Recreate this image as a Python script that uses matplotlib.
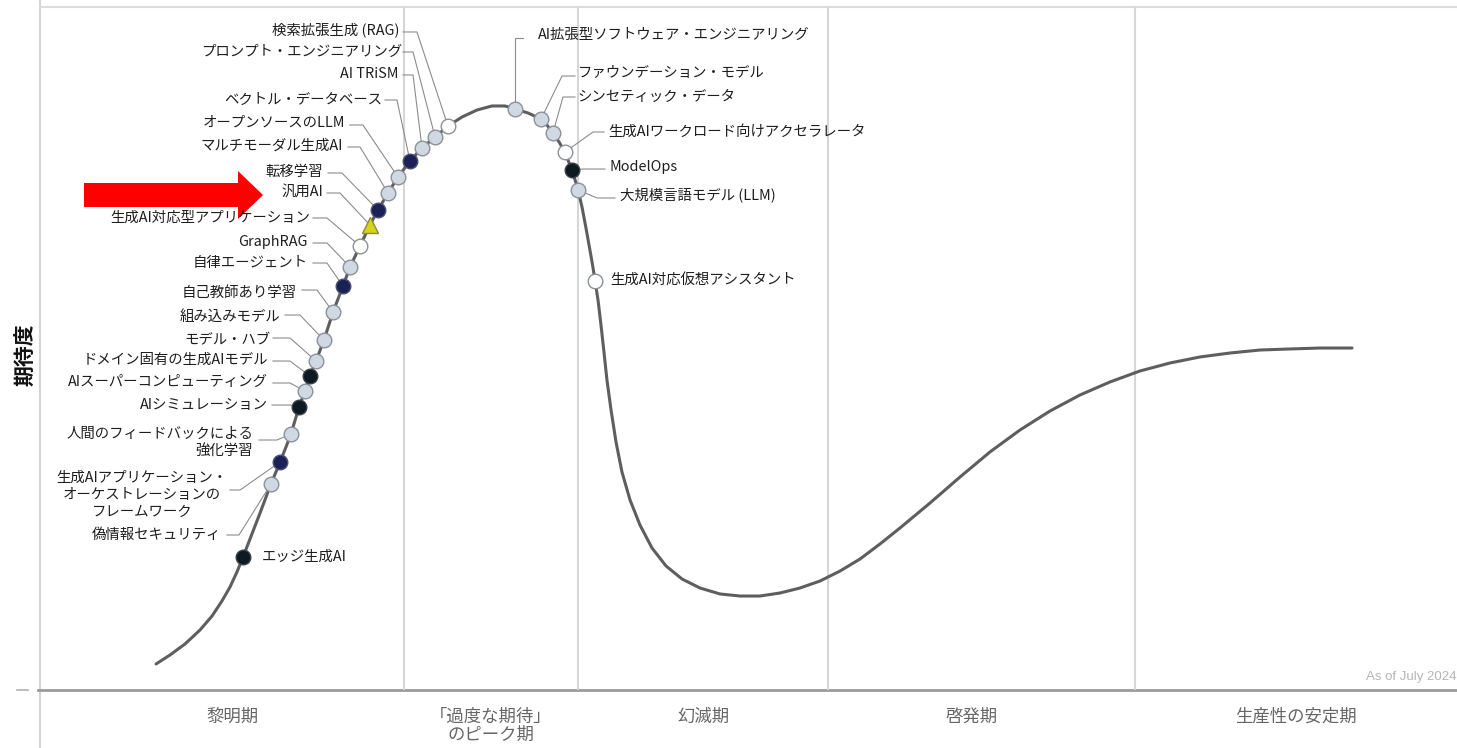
import matplotlib
matplotlib.use("Agg")
import matplotlib.pyplot as plt
from matplotlib.patches import Polygon

plt.rcParams['font.family'] = ['Noto Sans CJK JP', 'DejaVu Sans']

# Hype cycle curve: time (x) and expectations (y), both on a 0-100 scale
curve_x = [8.19, 9.17, 10.23, 11.29, 12.14, 12.84, 13.41, 13.90, 14.33, 14.82,
           15.53, 16.30, 16.94, 17.36, 17.71, 18.28, 18.70, 19.05, 19.48, 20.04,
           20.68, 21.38, 21.88, 22.58, 23.29, 23.85, 24.56, 25.26, 26.11, 26.96,
           27.88, 28.79, 29.78, 30.84, 31.90, 32.82, 33.52, 34.44, 35.36, 35.78,
           36.20, 36.63, 37.05, 37.26, 37.54, 37.76, 37.97, 38.25, 38.53, 38.81,
           39.03, 39.17, 39.38, 39.59, 39.80, 40.01, 40.30, 40.65, 41.07, 41.64,
           42.34, 43.19, 44.18, 45.31, 46.58, 47.99, 49.40, 50.81, 52.22, 53.63,
           55.05, 56.46, 57.87, 59.28, 60.69, 62.81, 64.93, 67.04, 69.16, 71.28,
           73.39, 75.51, 77.63, 79.75, 81.86, 83.98, 86.10, 88.21, 90.33, 92.59]
curve_y = [3.81, 5.12, 6.73, 8.78, 10.83, 13.03, 15.08, 17.28, 19.47, 22.11,
           25.92, 30.16, 33.38, 35.58, 37.48, 41.43, 43.78, 45.97, 48.17, 51.24,
           55.34, 59.15, 61.93, 65.01, 68.08, 70.28, 72.77, 75.11, 77.45, 79.36,
           80.97, 82.58, 83.89, 84.92, 85.51, 85.51, 85.07, 84.48, 83.60, 82.72,
           81.55, 80.23, 78.77, 77.60, 76.13, 74.67, 73.21, 70.72, 67.64, 64.42,
           61.79, 59.88, 57.10, 53.44, 49.49, 45.39, 40.99, 36.31, 31.92, 27.82,
           24.16, 20.79, 18.16, 16.25, 14.93, 14.06, 13.76, 13.76, 14.20, 14.93,
           15.96, 17.42, 19.18, 21.38, 23.72, 27.38, 31.19, 34.85, 38.07, 40.85,
           43.19, 45.10, 46.71, 47.88, 48.76, 49.34, 49.78, 49.93, 50.07, 50.07]

# Phases of the cycle
phase_bounds = [25.69, 37.97, 55.61, 77.28]
phase_names = ["黎明期", "「過度な期待」\nのピーク期", "幻滅期", "啓発期", "生産性の安定期"]
phase_label_x = [13.55, 31.83, 46.79, 65.77, 88.64]

# Technologies placed on the curve
tech_names = [
    "エッジ生成AI",
    "偽情報セキュリティ",
    "生成AIアプリケーション・\nオーケストレーションの\nフレームワーク",
    "人間のフィードバックによる\n強化学習",
    "AIシミュレーション",
    "AIスーパーコンピューティング",
    "ドメイン固有の生成AIモデル",
    "モデル・ハブ",
    "組み込みモデル",
    "自己教師あり学習",
    "自律エージェント",
    "GraphRAG",
    "生成AI対応型アプリケーション",
    "汎用AI",
    "転移学習",
    "マルチモーダル生成AI",
    "オープンソースのLLM",
    "ベクトル・データベース",
    "AI TRiSM",
    "プロンプト・エンジニアリング",
    "検索拡張生成 (RAG)",
    "AI拡張型ソフトウェア・エンジニアリング",
    "ファウンデーション・モデル",
    "シンセティック・データ",
    "生成AIワークロード向けアクセラレータ",
    "ModelOps",
    "大規模言語モデル (LLM)",
    "生成AI対応仮想アシスタント",
]
tech_x = [14.33, 16.30, 16.94, 17.71, 18.28, 18.70, 19.05, 19.48, 20.04, 20.68,
          21.38, 21.88, 22.58, 23.29, 23.85, 24.56, 25.26, 26.11, 26.96, 27.88,
          28.79, 33.52, 35.36, 36.20, 37.05, 37.54, 37.97, 39.17]
tech_y = [19.47, 30.16, 33.38, 37.48, 41.43, 43.78, 45.97, 48.17, 51.24, 55.34,
          59.15, 61.93, 65.01, 68.08, 70.28, 72.77, 75.11, 77.45, 79.36, 80.97,
          82.58, 85.07, 83.60, 81.55, 78.77, 76.13, 73.21, 59.88]
# Years to plateau
tech_years = ["10年以上", "2～5年", "5～10年", "2～5年", "10年以上", "2～5年",
              "10年以上", "2～5年", "2～5年", "2～5年", "5～10年", "2～5年",
              "2年未満", "陳腐化", "5～10年", "2～5年", "2～5年", "5～10年",
              "2～5年", "2～5年", "2年未満", "2～5年", "2～5年", "2～5年",
              "2年未満", "10年以上", "2～5年", "2年未満"]

# Marker styling per maturity category
marker_style = {
    "2年未満": dict(marker="o", mfc="#ffffff", mec="#8a9199", ms=10.5),
    "2～5年": dict(marker="o", mfc="#d0d9e3", mec="#8a9199", ms=10.5),
    "5～10年": dict(marker="o", mfc="#1b2157", mec="#4b5070", ms=10.5),
    "10年以上": dict(marker="o", mfc="#0e1a22", mec="#3a4046", ms=10.5),
    "陳腐化": dict(marker="^", mfc="#d4d41c", mec="#8c8c3c", ms=11),
}

# Label placement in pixels relative to each marker (dx right, dy down),
# horizontal alignment, and leader-line vertices (label end, elbow)
label_layout = [
    (19, 0, "left", []),
    (-50, 51, "right", [(-44, 51), (-32, 51)]),
    (-138, 33, "center", [(-50, 28), (-40, 28)]),
    (-38, 8, "right", [(-32, 6), (-14, 6)]),
    (-31, -2, "right", [(-27, -2), (-9, -2)]),
    (-37, -9, "right", [(-32, -8), (-15, -8)]),
    (-42, -16, "right", [(-37, -15), (-20, -15)]),
    (-46, -21, "right", [(-43, -23), (-26, -23)]),
    (-44, -23, "right", [(-39, -25), (-24, -25)]),
    (-36, -19, "right", [(-31, -22), (-16, -22)]),
    (-35, -23, "right", [(-30, -23), (-16, -23)]),
    (-42, -25, "right", [(-37, -24), (-23, -24)]),
    (-50, -28, "right", [(-47, -28), (-33, -28)]),
    (-47, -32, "right", [(-43, -32), (-30, -32)]),
    (-55, -38, "right", [(-50, -37), (-36, -37)]),
    (-45, -47, "right", [(-40, -46), (-28, -46)]),
    (-53, -54, "right", [(-48, -52), (-35, -52)]),
    (-28, -61, "right", [(-25, -61), (-13, -61)]),
    (-24, -74, "right", [(-19, -73), (-9, -73)]),
    (-33, -85, "right", [(-32, -85), (-22, -85)]),
    (-48, -96, "right", [(-45, -94), (-31, -94)]),
    (23, -74, "left", [(8, -71), (0, -71)]),
    (37, -46, "left", [(34, -43), (21, -43)]),
    (25, -36, "left", [(22, -36), (10, -36)]),
    (43, -20, "left", [(39, -20), (28, -20)]),
    (38, -3, "left", [(33, -1), (11, -1)]),
    (42, 5, "left", [(37, 8), (19, 8)]),
    (15, -1, "left", []),
]

W, H = 1457, 748
fig = plt.figure(figsize=(W / 100, H / 100), dpi=100)
fig.patch.set_facecolor("white")

# Pixel-unit overlay for frame lines, the axis title and the pointer arrow
ov = fig.add_axes([0, 0, 1, 1], zorder=0)
ov.set_xlim(0, W)
ov.set_ylim(H, 0)
ov.axis("off")
ov.plot([40, 40], [0, H], color="#d4d4d4", lw=1.5)
ov.plot([40, W], [7, 7], color="#dcdcdc", lw=1.5)
ov.plot([38, W], [690, 690], color="#9a9a9a", lw=2)
ov.plot([17, 28], [690, 690], color="#b0b0b0", lw=1.2)
ov.text(25, 355, "期待度", rotation=90, ha="center", va="center",
        fontsize=15, fontweight="bold", color="#111111")
ov.add_patch(Polygon([(84, 183), (238, 183), (238, 171), (263, 195),
                      (238, 219), (238, 207), (84, 207)],
                     closed=True, facecolor="#ff0000", edgecolor="none"))

ax = fig.add_axes([40 / W, 58 / H, 1417 / W, 683 / H], zorder=1)
ax.patch.set_alpha(0)
ax.set_xlim(0, 100)
ax.set_ylim(0, 100)
ax.axis("off")

for b in phase_bounds:
    ax.plot([b, b], [0, 100], color="#d6d6d6", lw=1.5, zorder=1)

for name, px in zip(phase_names, phase_label_x):
    ax.text(px, -2.6, name, ha="center", va="top", fontsize=12.5,
            color="#666666", linespacing=1.0, clip_on=False)

ax.text(1.0, 0.019, "As of July 2024", transform=ax.transAxes, ha="right",
        va="center", fontsize=9.5, color="#b5b5b5", family="Liberation Sans")

ax.plot(curve_x, curve_y, color="#5e5e5e", lw=2.2, solid_capstyle="round",
        solid_joinstyle="round", zorder=2)

inv = ax.transData.inverted()
for name, x, y, yrs, (dx, dy, ha, conn) in zip(tech_names, tech_x, tech_y,
                                               tech_years, label_layout):
    px, py = ax.transData.transform((x, y))
    tx, ty = inv.transform((px + dx, py - dy))
    ax.text(tx, ty, name, ha=ha, va="center", fontsize=10.4, color="#1e1e1e",
            multialignment=ha, linespacing=1.25, zorder=4)
    if conn:
        pts = [tuple(inv.transform((px + cx, py - cy))) for cx, cy in conn]
        pts.append((x, y))
        ax.plot([p[0] for p in pts], [p[1] for p in pts], color="#8c8c8c",
                lw=0.8, zorder=2.5)
    ax.plot([x], [y], linestyle="none", mew=1.0, zorder=3, **marker_style[yrs])

fig.savefig("out.png", dpi=100, facecolor="white")
